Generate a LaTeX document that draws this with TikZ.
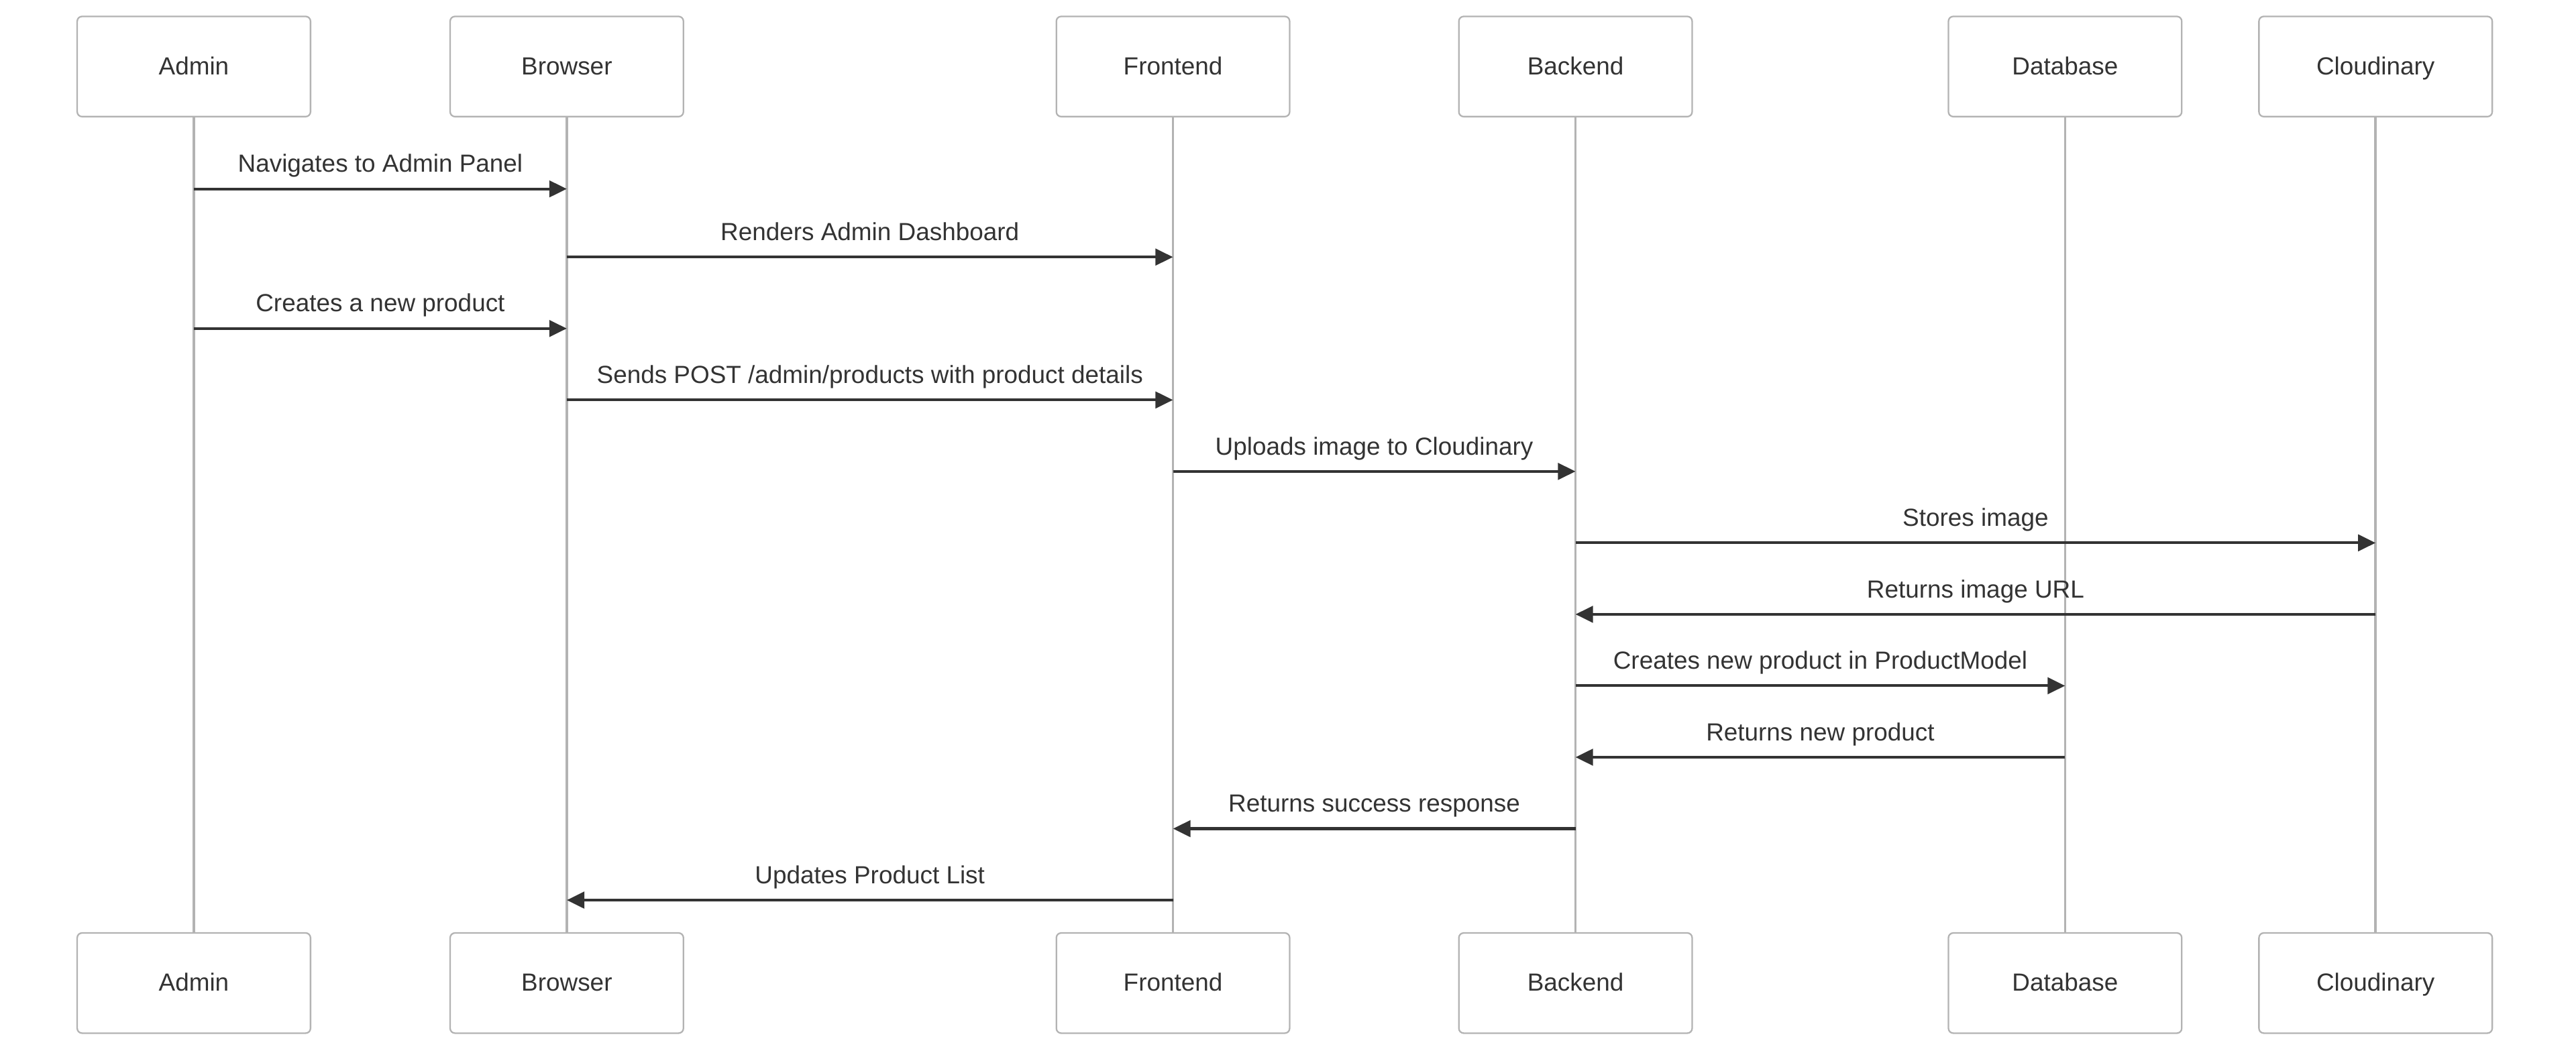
\documentclass[tikz,border=0pt]{standalone}
\usepackage{fontspec}
\setmainfont{Liberation Sans}
\usepackage{tikz}
\usetikzlibrary{arrows.meta, positioning}
\definecolor{boxgray}{HTML}{B3B3B3}
\definecolor{ink}{HTML}{333333}
\tikzset{actor/.style={draw=boxgray, fill=white, line width=0.7pt, rounded corners=2.2pt, minimum width=106.5pt, minimum height=45.75pt, text height=9pt, text depth=1.6pt, text=ink, font=\fontsize{11.3}{13}\selectfont},
    life/.style={draw=boxgray, line width=1.1pt},
    msg/.style={draw=ink, line width=1.25pt, -{Triangle[length=8pt, width=7.5pt]}},
    lbl/.style={anchor=base, yshift=7.6pt, inner sep=0pt, text=ink, font=\fontsize{11.3}{13}\selectfont}}

\begin{document}
\begin{tikzpicture}[x=0.75pt, y=-0.75pt]
            \useasboundingbox (0,0) rectangle (1568,640.7);
            \foreach \n/\x/\t in {admin/118/Admin, browser/345/Browser, frontend/714/Frontend, backend/959/Backend, database/1257/Database, cloudinary/1446/Cloudinary}{
                \node[actor] (\n) at (\x,40.5) {\t};
                \node[actor] (\n-b) at (\x,598.5) {\t};
                \draw[life] (\n) -- (\n-b);
            }
            \coordinate (m1) at (0,115);
            \coordinate (m2) at (0,156.5);
            \coordinate (m3) at (0,200);
            \coordinate (m4) at (0,243.5);
            \coordinate (m5) at (0,287);
            \coordinate (m6) at (0,330.5);
            \coordinate (m7) at (0,374);
            \coordinate (m8) at (0,417.5);
            \coordinate (m9) at (0,461);
            \coordinate (m10) at (0,504.5);
            \coordinate (m11) at (0,548);
            \draw[msg](admin |- m1)--node[lbl]{Navigates to Admin Panel}(browser |- m1);
            \draw[msg](browser |- m2)--node[lbl]{Renders Admin Dashboard}(frontend |- m2);
            \draw[msg](admin |- m3)--node[lbl]{Creates a new product}(browser |- m3);
            \draw[msg](browser |- m4)--node[lbl]{Sends POST /admin/products with product details}(frontend |- m4);
            \draw[msg](frontend |- m5)--node[lbl]{Uploads image to Cloudinary}(backend |- m5);
            \draw[msg](backend |- m6)--node[lbl]{Stores image}(cloudinary |- m6);
            \draw[msg](cloudinary |- m7)--node[lbl]{Returns image URL}(backend |- m7);
            \draw[msg](backend |- m8)--node[lbl]{Creates new product in ProductModel}(database |- m8);
            \draw[msg](database |- m9)--node[lbl]{Returns new product}(backend |- m9);
            \draw[msg](backend |- m10)--node[lbl]{Returns success response}(frontend |- m10);
            \draw[msg](frontend |- m11)--node[lbl]{Updates Product List}(browser |- m11);
        \end{tikzpicture}
\end{document}
